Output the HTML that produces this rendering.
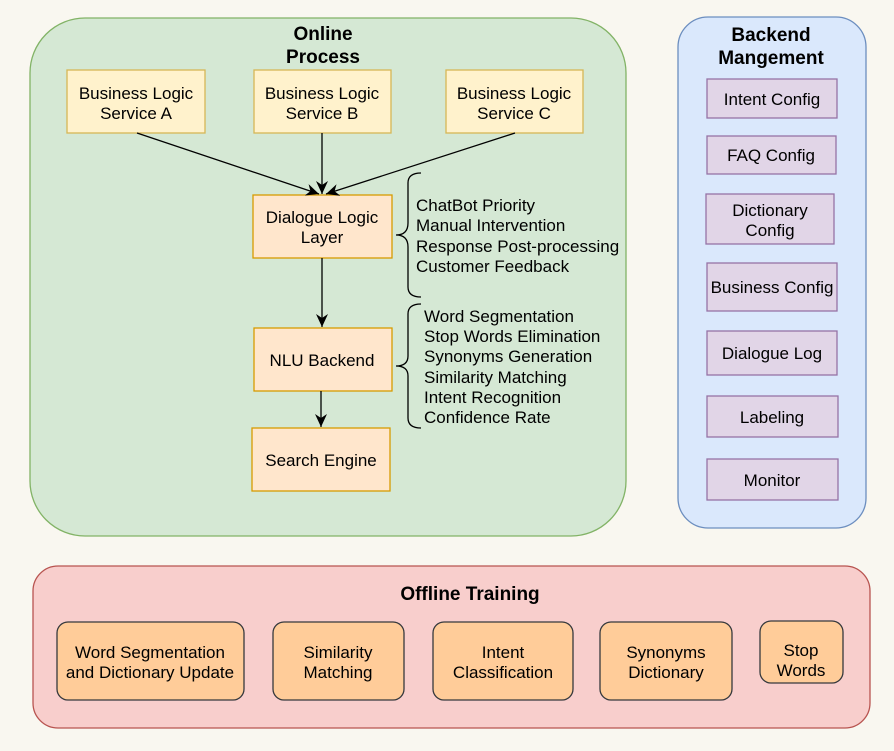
<!DOCTYPE html>
<html><head><style>body{margin:0;background:#f9f7f0}svg{display:block}text{font-family:"Liberation Sans",Arial,sans-serif;font-size:17px;fill:#000}</style></head><body>
<svg width="894" height="751" viewBox="0 0 894 751" xmlns="http://www.w3.org/2000/svg">
<defs><marker id="a" markerWidth="14" markerHeight="14" refX="13" refY="6" orient="auto" markerUnits="userSpaceOnUse"><path d="M0,0 L13,6 L0,12 L4,6 Z" fill="#000"/></marker></defs>
<rect width="894" height="751" fill="#f9f7f0"/>
<rect x="30" y="18" width="596" height="518" rx="55" fill="#d5e8d4" stroke="#82b366" stroke-width="1.3"/>
<text x="323" y="40" text-anchor="middle" font-weight="bold" style="font-size:19px">Online</text>
<text x="323" y="63" text-anchor="middle" font-weight="bold" style="font-size:19px">Process</text>
<g fill="#fff2cc" stroke="#d6b656" stroke-width="1.3">
<rect x="67" y="70" width="138" height="63"/><rect x="254" y="70" width="137" height="63"/><rect x="446" y="70" width="137" height="63"/></g>
<g text-anchor="middle">
<text x="136" y="99">Business Logic</text><text x="136" y="119">Service A</text>
<text x="322" y="99">Business Logic</text><text x="322" y="119">Service B</text>
<text x="514" y="99">Business Logic</text><text x="514" y="119">Service C</text></g>
<g fill="#ffe6cc" stroke="#d79b00" stroke-width="1.3">
<rect x="253" y="195" width="139" height="63"/><rect x="254" y="328" width="138" height="63"/><rect x="252" y="428" width="138" height="63"/></g>
<g text-anchor="middle">
<text x="322" y="223">Dialogue Logic</text><text x="322" y="243">Layer</text>
<text x="322" y="366">NLU Backend</text><text x="321" y="466">Search Engine</text></g>
<g stroke="#000" stroke-width="1.3" fill="none" marker-end="url(#a)">
<line x1="137" y1="133" x2="319" y2="194"/><line x1="322" y1="133" x2="322" y2="194"/><line x1="515" y1="133" x2="326" y2="194"/>
<line x1="322" y1="258" x2="322" y2="327"/><line x1="321" y1="391" x2="321" y2="427"/></g>
<g stroke="#000" stroke-width="1.3" fill="none">
<path d="M421,173 Q408,173 408,183 L408,223 Q408,235 396,235 Q408,235 408,247 L408,287 Q408,297 421,297"/>
<path d="M421,304 Q408,304 408,314 L408,356 Q408,366 396,366 Q408,366 408,376 L408,418 Q408,428 421,428"/></g>
<text x="416" y="211">ChatBot Priority</text><text x="416" y="231">Manual Intervention</text><text x="416" y="252">Response Post-processing</text><text x="416" y="272">Customer Feedback</text>
<text x="424" y="322">Word Segmentation</text><text x="424" y="342">Stop Words Elimination</text><text x="424" y="362">Synonyms Generation</text><text x="424" y="383">Similarity Matching</text><text x="424" y="403">Intent Recognition</text><text x="424" y="423">Confidence Rate</text>
<rect x="678" y="17" width="188" height="511" rx="30" fill="#dae8fc" stroke="#6c8ebf" stroke-width="1.3"/>
<text x="771" y="41" text-anchor="middle" font-weight="bold" style="font-size:19px">Backend</text>
<text x="771" y="64" text-anchor="middle" font-weight="bold" style="font-size:19px">Mangement</text>
<g fill="#e1d5e7" stroke="#9673a6" stroke-width="1.3">
<rect x="707" y="79" width="130" height="39"/><rect x="707" y="136" width="129" height="38"/><rect x="706" y="194" width="128" height="50"/><rect x="707" y="263" width="130" height="48"/><rect x="707" y="331" width="130" height="44"/><rect x="707" y="396" width="131" height="41"/><rect x="707" y="459" width="131" height="41"/></g>
<g text-anchor="middle">
<text x="772" y="105">Intent Config</text><text x="771" y="161">FAQ Config</text><text x="770" y="216">Dictionary</text><text x="770" y="236">Config</text><text x="772" y="293">Business Config</text><text x="772" y="359">Dialogue Log</text><text x="772" y="423">Labeling</text><text x="772" y="486">Monitor</text></g>
<rect x="33" y="566" width="837" height="162" rx="25" fill="#f8cecc" stroke="#b85450" stroke-width="1.3"/>
<text x="470" y="600" text-anchor="middle" font-weight="bold" style="font-size:19px">Offline Training</text>
<g fill="#ffcc99" stroke="#36393d" stroke-width="1.3">
<rect x="57" y="622" width="187" height="78" rx="11"/><rect x="273" y="622" width="131" height="78" rx="11"/><rect x="433" y="622" width="140" height="78" rx="11"/><rect x="600" y="622" width="132" height="78" rx="11"/><rect x="760" y="621" width="83" height="62" rx="11"/></g>
<g text-anchor="middle">
<text x="150" y="658">Word Segmentation</text><text x="150" y="678">and Dictionary Update</text>
<text x="338" y="658">Similarity</text><text x="338" y="678">Matching</text>
<text x="503" y="658">Intent</text><text x="503" y="678">Classification</text>
<text x="666" y="658">Synonyms</text><text x="666" y="678">Dictionary</text>
<text x="801" y="656">Stop</text><text x="801" y="676">Words</text></g>
</svg></body></html>
